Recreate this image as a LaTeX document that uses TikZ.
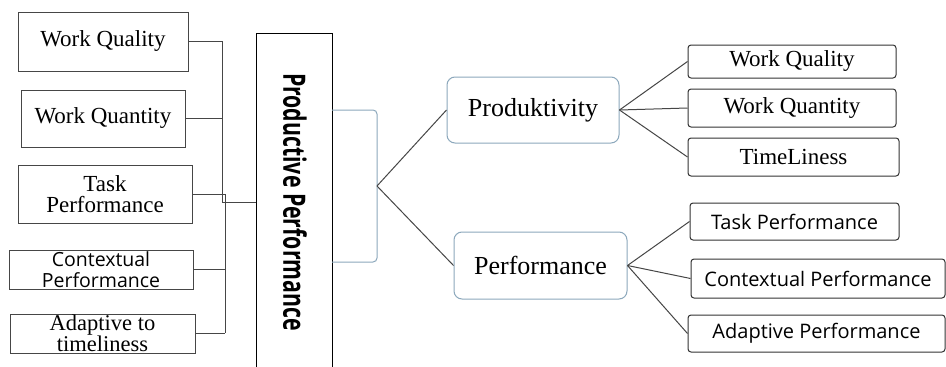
\documentclass[tikz,border=0pt]{standalone}
\usepackage{fontspec}
\setmainfont{Liberation Serif}
\newfontfamily\osans{Open Sans}
\newfontfamily\osansb{Open Sans Bold}
\definecolor{bluegray}{RGB}{140,168,188}
\definecolor{linegray}{RGB}{70,70,70}
\begin{document}
\begin{tikzpicture}[x=1pt,y=-1pt,
  lbox/.style={draw=linegray,line width=1pt,inner sep=0pt,align=center,font=\fontsize{23}{21.5}\selectfont},
  rbox/.style={draw=black!80,line width=1pt,rounded corners=3pt,inner sep=0pt,align=center,font=\fontsize{23}{21.5}\selectfont},
  rsbox/.style={rbox,font=\osans\fontsize{20}{20}\selectfont},
  midbox/.style={draw=bluegray,line width=1pt,rounded corners=8pt,inner sep=0pt,font=\fontsize{26}{26}\selectfont},
  conn/.style={draw=linegray,line width=1pt},
  bconn/.style={draw=bluegray,line width=1pt}]
\useasboundingbox (0,0) rectangle (946,367);
\fill[white] (0,0) rectangle (946,367);
% left boxes
\node[lbox,minimum width=170pt,minimum height=59pt] (lq) at (103,41.5) {Work Quality};
\node[lbox,minimum width=164pt,minimum height=57pt] (lqt) at (103,118.5) {Work Quantity};
\node[lbox,minimum width=174pt,minimum height=58pt] (ltp) at (105,194) {Task\\Performance};
\node[lbox,minimum width=184pt,minimum height=39pt,font=\osans\fontsize{19.5}{20.5}\selectfont] (lcp) at (101,269.5) {Contextual\\Performance};
\node[lbox,minimum width=185pt,minimum height=39pt,font=\fontsize{22.5}{20.5}\selectfont] (lat) at (102.5,333.5) {Adaptive to\\timeliness};
% big box
\node[draw=black,line width=1pt,minimum width=76pt,minimum height=340pt,inner sep=0pt] (big) at (294,203) {};
\node[rotate=-90,inner sep=0pt] (bigt) at (295,202) {\scalebox{0.69}[1]{\osansb\fontsize{30.8}{30}\selectfont Productive Performance}};
% joints
\coordinate (j1) at (222,202);
\coordinate (j2) at (225,194);
\coordinate (j3) at (225,333);
\draw[conn] (lq.east) -| (j1);
\draw[conn] (lqt.east) -- (lqt.east -| j1);
\draw[conn] (j1) -- (big.west |- j1);
\draw[conn] (ltp.east) -- (j2) -- (j3);
\draw[conn] (lcp.east) -- (lcp.east -| j2);
\draw[conn] (lat.east) -- (lat.east -| j2);
% bracket
\coordinate (b1) at (332,110);
\coordinate (b2) at (332,262);
\coordinate (br) at (377,186);
\draw[bconn,rounded corners=4pt] (b1) -| (br) |- (b2);
% middle boxes
\node[midbox,minimum width=172pt,minimum height=66pt] (prod) at (533,110) {Produktivity};
\node[midbox,minimum width=173pt,minimum height=67pt] (perf) at (540.5,265.5) {Performance};
\draw[conn] (br) -- (prod.west);
\draw[conn] (br) -- (perf.west);
% right boxes
\node[rbox,minimum width=208pt,minimum height=33pt] (rq) at (792,61.5) {Work Quality};
\node[rbox,minimum width=208pt,minimum height=38pt] (rqt) at (792,108) {Work Quantity};
\node[rbox,minimum width=211pt,minimum height=38pt] (rtl) at (793.5,157) {TimeLiness};
\node[rsbox,minimum width=209pt,minimum height=37pt] (rtp) at (794.5,221.5) {Task Performance};
\node[rsbox,minimum width=254pt,minimum height=39pt] (rcp) at (818,278.5) {Contextual Performance};
\node[rsbox,minimum width=257pt,minimum height=37pt] (rap) at (816.5,333.5) {Adaptive Performance};
\draw[conn] (prod.east) -- (rq.west);
\draw[conn] (prod.east) -- (rqt.west);
\draw[conn] (prod.east) -- (rtl.west);
\draw[conn] (perf.east) -- (rtp.west);
\draw[conn] (perf.east) -- (rcp.west);
\draw[conn] (perf.east) -- (rap.west);
\end{tikzpicture}
\end{document}
